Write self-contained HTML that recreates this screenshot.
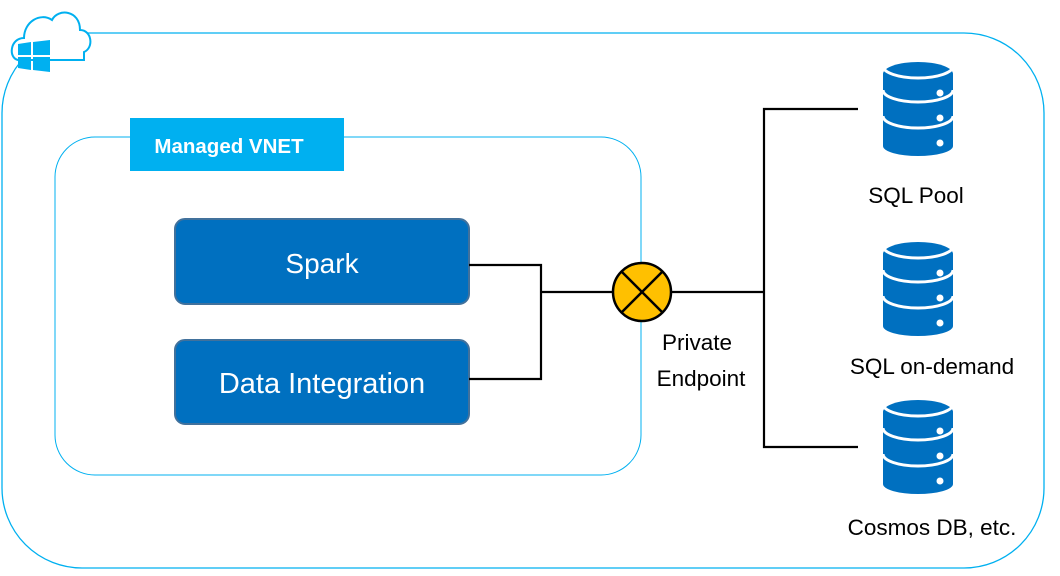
<!DOCTYPE html>
<html><head><meta charset="utf-8"><style>
html,body{margin:0;padding:0;background:#fff;width:1060px;height:576px;overflow:hidden}
text{font-family:"Liberation Sans",sans-serif}
</style></head><body>
<svg width="1060" height="576" viewBox="0 0 1060 576" xmlns="http://www.w3.org/2000/svg">
<rect x="2" y="33" width="1042" height="535" rx="80" fill="none" stroke="#00b0f0" stroke-width="1.3"/>
<!-- cloud -->
<path d="M18,60 C8,58 10,38 24,38 C24,22 40,12 52,20 C58,8 80,10 80,30 C92,30 94,48 84,52 L84,60 Z" fill="#fff" stroke="#00b0f0" stroke-width="2"/>
<g fill="#00b0f0">
<polygon points="18,44 31,42 31,55 18,55"/>
<polygon points="33,42 50,40 50,55 33,55"/>
<polygon points="18,57 31,57 31,70 18,68"/>
<polygon points="33,57 50,57 50,72 33,70"/>
</g>
<rect x="55" y="137" width="586" height="338" rx="40" fill="none" stroke="#00b0f0" stroke-width="1"/>
<rect x="130" y="118" width="214" height="53" fill="#00b0f0"/>
<text x="229" y="153" font-size="20.5" font-weight="bold" fill="#fff" text-anchor="middle">Managed VNET</text>
<rect x="175" y="219" width="294" height="85" rx="10" fill="#0070c0" stroke="#41719c" stroke-width="2"/>
<text x="322" y="273" font-size="28" fill="#fff" text-anchor="middle">Spark</text>
<rect x="175" y="340" width="294" height="84" rx="10" fill="#0070c0" stroke="#41719c" stroke-width="2"/>
<text x="322" y="393" font-size="29" fill="#fff" text-anchor="middle">Data Integration</text>
<g stroke="#000" stroke-width="2.2" fill="none">
<polyline points="469,265 541,265 541,379 469,379"/>
<line x1="541" y1="292" x2="613" y2="292"/>
<line x1="671" y1="292" x2="764" y2="292"/>
<polyline points="858,109 764,109 764,447 858,447"/>
</g>
<circle cx="642" cy="292" r="29" fill="#ffc000" stroke="#000" stroke-width="2.5"/>
<line x1="622" y1="272" x2="662" y2="312" stroke="#000" stroke-width="2.5"/>
<line x1="662" y1="272" x2="622" y2="312" stroke="#000" stroke-width="2.5"/>
<text x="697" y="350" font-size="22.5" fill="#000" text-anchor="middle">Private</text>
<text x="701" y="386" font-size="22.5" fill="#000" text-anchor="middle">Endpoint</text>
<defs>
<g id="db">
<path d="M0,12 L0,84 A35,10 0 0 0 70,84 L70,12 Z" fill="#0070c0"/>
<ellipse cx="35" cy="12" rx="35" ry="12" fill="#0070c0"/>
<path d="M0,4 A35,12 0 0 0 70,4" fill="none" stroke="#fff" stroke-width="3"/>
<path d="M0,28 A35,12 0 0 0 70,28" fill="none" stroke="#fff" stroke-width="3"/>
<path d="M0,54 A35,12 0 0 0 70,54" fill="none" stroke="#fff" stroke-width="3"/>
<circle cx="57" cy="31" r="3.5" fill="#fff"/>
<circle cx="57" cy="56" r="3.5" fill="#fff"/>
<circle cx="57" cy="81" r="3.5" fill="#fff"/>
</g>
</defs>
<use href="#db" x="883" y="62"/>
<use href="#db" x="883" y="242"/>
<use href="#db" x="883" y="400"/>
<text x="916" y="203" font-size="22.5" fill="#000" text-anchor="middle">SQL Pool</text>
<text x="932" y="374" font-size="22.5" fill="#000" text-anchor="middle">SQL on-demand</text>
<text x="932" y="535" font-size="22.5" fill="#000" text-anchor="middle">Cosmos DB, etc.</text>
</svg>
</body></html>
